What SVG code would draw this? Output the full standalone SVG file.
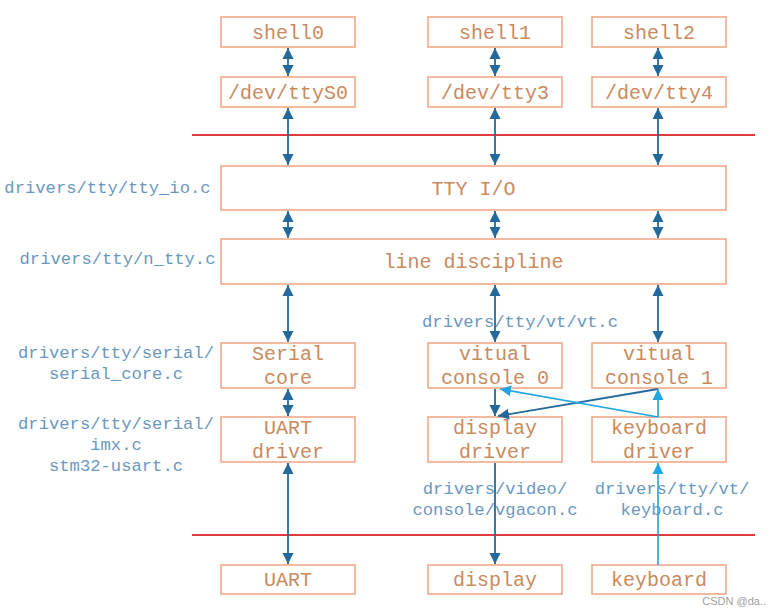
<svg xmlns="http://www.w3.org/2000/svg" width="778" height="614" viewBox="0 0 778 614">
<style>
.box{fill:#fff;stroke:#f2a989;stroke-width:1.6}
.bt{font-family:"Liberation Mono","Courier New",monospace;font-size:20px;fill:#c98a5e;text-anchor:middle}
.lb{font-family:"Liberation Mono","Courier New",monospace;font-size:17.2px;fill:#6b98c0;text-anchor:middle}
.dk{stroke:#24699b;stroke-width:1.8;fill:none}
.lt{stroke:#20a6e2;stroke-width:1.6;fill:none}
.red{stroke:#e0393e;stroke-width:2}
</style>
<defs>
<marker id="ad" markerUnits="userSpaceOnUse" markerWidth="12" markerHeight="12" refX="11" refY="6" orient="auto-start-reverse"><path d="M0,0.5 L11,6 L0,11.5 z" fill="#24699b"/></marker>
<marker id="al" markerUnits="userSpaceOnUse" markerWidth="12" markerHeight="12" refX="11" refY="6" orient="auto-start-reverse"><path d="M0,0.5 L11,6 L0,11.5 z" fill="#20a6e2"/></marker>
</defs>
<rect width="778" height="614" fill="#fff"/>
<g id="layers">
<line class="red" x1="192" y1="135" x2="755" y2="135"/>
<line class="red" x1="192" y1="535" x2="755" y2="535"/>
</g>
<g id="labels">
<text class="lb" x="107.5" y="193">drivers/tty/tty_io.c</text>
<text class="lb" x="117.5" y="264">drivers/tty/n_tty.c</text>
<text class="lb" x="116" y="358">drivers/tty/serial/</text>
<text class="lb" x="116" y="379">serial_core.c</text>
<text class="lb" x="116" y="429">drivers/tty/serial/</text>
<text class="lb" x="116" y="450">imx.c</text>
<text class="lb" x="116" y="471">stm32-usart.c</text>
<text class="lb" x="520" y="327">drivers/tty/vt/vt.c</text>
<text class="lb" x="495" y="494">drivers/video/</text>
<text class="lb" x="495" y="515">console/vgacon.c</text>
<text class="lb" x="672" y="494">drivers/tty/vt/</text>
<text class="lb" x="672" y="515">keyboard.c</text>
</g>
<g id="shell0"><rect class="box" x="221" y="17" width="134" height="30"/><text class="bt" x="288" y="39">shell0</text></g>
<g id="shell1"><rect class="box" x="428" y="17" width="134" height="30"/><text class="bt" x="495" y="39">shell1</text></g>
<g id="shell2"><rect class="box" x="592" y="17" width="134" height="30"/><text class="bt" x="659" y="39">shell2</text></g>
<g id="ttyS0"><rect class="box" x="221" y="77" width="134" height="30"/><text class="bt" x="288" y="99">/dev/ttyS0</text></g>
<g id="tty3"><rect class="box" x="428" y="77" width="134" height="30"/><text class="bt" x="495" y="99">/dev/tty3</text></g>
<g id="tty4"><rect class="box" x="592" y="77" width="134" height="30"/><text class="bt" x="659" y="99">/dev/tty4</text></g>
<g id="ttyio"><rect class="box" x="221" y="166" width="505" height="44"/><text class="bt" x="473.5" y="195">TTY I/O</text></g>
<g id="ldisc"><rect class="box" x="221" y="239" width="505" height="45"/><text class="bt" x="473.5" y="268">line discipline</text></g>
<g id="serialcore"><rect class="box" x="221" y="343" width="134" height="45"/><text class="bt" x="288" y="360">Serial</text><text class="bt" x="288" y="384">core</text></g>
<g id="vc0"><rect class="box" x="428" y="343" width="134" height="45"/><text class="bt" x="495" y="360">vitual</text><text class="bt" x="495" y="384">console 0</text></g>
<g id="vc1"><rect class="box" x="592" y="343" width="134" height="45"/><text class="bt" x="659" y="360">vitual</text><text class="bt" x="659" y="384">console 1</text></g>
<g id="uartdrv"><rect class="box" x="221" y="417" width="134" height="45"/><text class="bt" x="288" y="434">UART</text><text class="bt" x="288" y="458">driver</text></g>
<g id="dispdrv"><rect class="box" x="428" y="417" width="134" height="45"/><text class="bt" x="495" y="434">display</text><text class="bt" x="495" y="458">driver</text></g>
<g id="kbddrv"><rect class="box" x="592" y="417" width="134" height="45"/><text class="bt" x="659" y="434">keyboard</text><text class="bt" x="659" y="458">driver</text></g>
<g id="uart"><rect class="box" x="221" y="565" width="134" height="29"/><text class="bt" x="288" y="586">UART</text></g>
<g id="display"><rect class="box" x="428" y="565" width="134" height="29"/><text class="bt" x="495" y="586">display</text></g>
<g id="keyboard"><rect class="box" x="592" y="565" width="134" height="29"/><text class="bt" x="659" y="586">keyboard</text></g>
<g id="connectors">
<line class="dk" x1="288" y1="48" x2="288" y2="76" marker-start="url(#ad)" marker-end="url(#ad)"/>
<line class="dk" x1="495" y1="48" x2="495" y2="76" marker-start="url(#ad)" marker-end="url(#ad)"/>
<line class="dk" x1="658" y1="48" x2="658" y2="76" marker-start="url(#ad)" marker-end="url(#ad)"/>
<line class="dk" x1="288" y1="108" x2="288" y2="165" marker-start="url(#ad)" marker-end="url(#ad)"/>
<line class="dk" x1="495" y1="108" x2="495" y2="165" marker-start="url(#ad)" marker-end="url(#ad)"/>
<line class="dk" x1="658" y1="108" x2="658" y2="165" marker-start="url(#ad)" marker-end="url(#ad)"/>
<line class="dk" x1="288" y1="211" x2="288" y2="238" marker-start="url(#ad)" marker-end="url(#ad)"/>
<line class="dk" x1="495" y1="211" x2="495" y2="238" marker-start="url(#ad)" marker-end="url(#ad)"/>
<line class="dk" x1="658" y1="211" x2="658" y2="238" marker-start="url(#ad)" marker-end="url(#ad)"/>
<line class="dk" x1="288" y1="285" x2="288" y2="342" marker-start="url(#ad)" marker-end="url(#ad)"/>
<line class="dk" x1="495" y1="285" x2="495" y2="342" marker-start="url(#ad)" marker-end="url(#ad)"/>
<line class="dk" x1="658" y1="285" x2="658" y2="342" marker-start="url(#ad)" marker-end="url(#ad)"/>
<line class="dk" x1="288" y1="389" x2="288" y2="416" marker-start="url(#ad)" marker-end="url(#ad)"/>
<line class="dk" x1="288" y1="463" x2="288" y2="564" marker-start="url(#ad)" marker-end="url(#ad)"/>
<line class="dk" x1="495" y1="389" x2="495" y2="416" marker-end="url(#ad)"/>
<line class="dk" x1="658" y1="389" x2="498" y2="416" marker-end="url(#ad)"/>
<line class="lt" x1="658" y1="417" x2="658" y2="389" marker-end="url(#al)"/>
<line class="lt" x1="658" y1="417" x2="500" y2="389" marker-end="url(#al)"/>
<line class="dk" x1="495" y1="463" x2="495" y2="564" marker-end="url(#ad)"/>
<line class="lt" x1="658" y1="565" x2="658" y2="463" marker-end="url(#al)"/>
</g>
<text x="766" y="605" font-family="Liberation Sans,Arial,sans-serif" font-size="11" fill="#a0a0a0" text-anchor="end">CSDN @da..</text>
</svg>
